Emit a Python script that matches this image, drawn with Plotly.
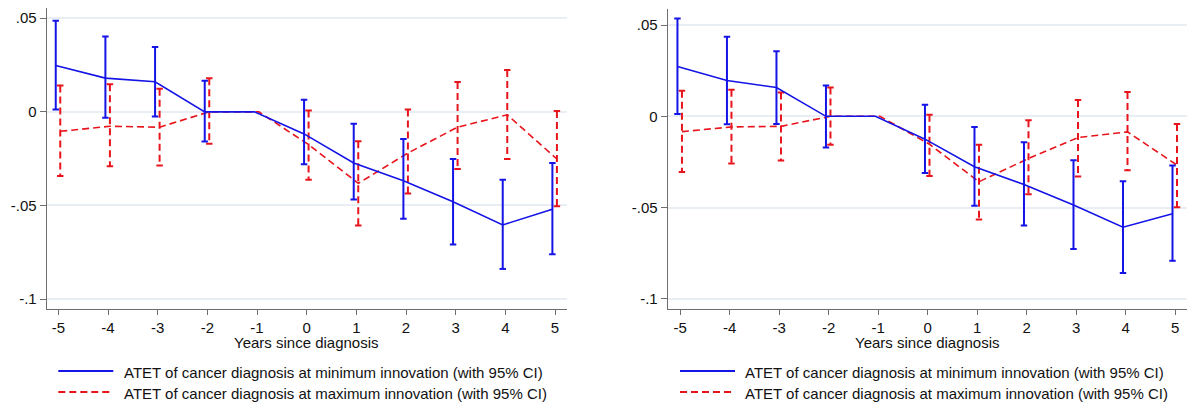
import plotly.graph_objects as go

# ---------------- data ----------------
years = [-5, -4, -3, -2, -1, 0, 1, 2, 3, 4, 5]
ytick_vals = [0.05, 0.0, -0.05, -0.1]
ytick_text = [".05", "0", "-.05", "-.1"]
xtick_vals = years
xtick_text = [str(v) for v in years]

legend_min = "ATET of cancer diagnosis at minimum innovation (with 95% CI)"
legend_max = "ATET of cancer diagnosis at maximum innovation (with 95% CI)"
x_title = "Years since diagnosis"

# left panel
L_min_est = [0.0248, 0.0180, 0.0161, 0.0, 0.0, -0.0118, -0.0273, -0.0368, -0.0480, -0.0604, -0.0520]
L_min_lo = [0.0013, -0.0032, -0.0025, -0.0159, None, -0.0280, -0.0468, -0.0571, -0.0709, -0.0839, -0.0761]
L_min_hi = [0.0486, 0.0402, 0.0346, 0.0166, None, 0.0064, -0.0064, -0.0145, -0.0252, -0.0363, -0.0273]
L_max_est = [-0.0104, -0.0077, -0.0082, 0.0, 0.0, -0.0175, -0.0382, -0.0220, -0.0082, -0.0016, -0.0252]
L_max_lo = [-0.0343, -0.0291, -0.0286, -0.0170, None, -0.0363, -0.0607, -0.0436, -0.0305, -0.0252, -0.0504]
L_max_hi = [0.0141, 0.0148, 0.0123, 0.0179, None, 0.0007, -0.0157, 0.0013, 0.0159, 0.0223, 0.0005]

# right panel
R_min_est = [0.0273, 0.0196, 0.0158, 0.0, 0.0, -0.0125, -0.0276, -0.0373, -0.0485, -0.0607, -0.0533]
R_min_lo = [0.0013, -0.0044, -0.0042, -0.0171, None, -0.0311, -0.0489, -0.0598, -0.0727, -0.0858, -0.0791]
R_min_hi = [0.0536, 0.0436, 0.0356, 0.0169, None, 0.0064, -0.0058, -0.0142, -0.0240, -0.0355, -0.0269]
R_max_est = [-0.0084, -0.0058, -0.0055, 0.0, 0.0, -0.0153, -0.0358, -0.0231, -0.0116, -0.0085, -0.0267]
R_max_lo = [-0.0305, -0.0258, -0.0242, -0.0156, None, -0.0327, -0.0565, -0.0427, -0.0329, -0.0295, -0.0498]
R_max_hi = [0.0140, 0.0145, 0.0131, 0.0158, None, 0.0009, -0.0156, -0.0022, 0.0089, 0.0133, -0.0042]

# ---------------- style ----------------
W, H = 1189, 408
BLUE = "#1414e6"
RED = "#e8141c"
AXIS_C = "#6e6e6e"
GRID_C = "#e9eef5"
FONT = "Liberation Sans, Arial, sans-serif"
OFF_MIN = -0.053
OFF_MAX = 0.038
CAP = 0.065
DASH = "7px,4px"


def px_x(p):
    return p / W


def px_y(p):
    return 1 - p / H


def ci_segments(xs, lo, hi):
    vx, vy, cx, cy = [], [], [], []
    for x, a, b in zip(xs, lo, hi):
        if a is None or b is None:
            continue
        vx += [x, x, None]
        vy += [b, a, None]
        cx += [x - CAP, x + CAP, None, x - CAP, x + CAP, None]
        cy += [b, b, None, a, a, None]
    return vx, vy, cx, cy


fig = go.Figure()

panels = [
    ("x", "y", L_min_est, L_min_lo, L_min_hi, L_max_est, L_max_lo, L_max_hi),
    ("x2", "y2", R_min_est, R_min_lo, R_min_hi, R_max_est, R_max_lo, R_max_hi),
]

for xa, ya, mn, mnlo, mnhi, mx, mxlo, mxhi in panels:
    xmin = [v + OFF_MIN for v in years]
    xmax = [v + OFF_MAX for v in years]
    # max innovation (red dashed)
    vx, vy, cx, cy = ci_segments(xmax, mxlo, mxhi)
    fig.add_trace(go.Scatter(x=vx, y=vy, mode="lines", xaxis=xa, yaxis=ya,
                             line=dict(color=RED, width=2, dash=DASH), showlegend=False, hoverinfo="skip"))
    fig.add_trace(go.Scatter(x=cx, y=cy, mode="lines", xaxis=xa, yaxis=ya,
                             line=dict(color=RED, width=2), showlegend=False, hoverinfo="skip"))
    fig.add_trace(go.Scatter(x=xmax, y=mx, mode="lines", xaxis=xa, yaxis=ya,
                             line=dict(color=RED, width=1.6, dash=DASH), showlegend=False,
                             name=legend_max))
    # min innovation (blue solid)
    vx, vy, cx, cy = ci_segments(xmin, mnlo, mnhi)
    fig.add_trace(go.Scatter(x=vx, y=vy, mode="lines", xaxis=xa, yaxis=ya,
                             line=dict(color=BLUE, width=2), showlegend=False, hoverinfo="skip"))
    fig.add_trace(go.Scatter(x=cx, y=cy, mode="lines", xaxis=xa, yaxis=ya,
                             line=dict(color=BLUE, width=2), showlegend=False, hoverinfo="skip"))
    fig.add_trace(go.Scatter(x=xmin, y=mn, mode="lines", xaxis=xa, yaxis=ya,
                             line=dict(color=BLUE, width=1.6), showlegend=False,
                             name=legend_min))

axis_common_x = dict(
    tickmode="array", tickvals=xtick_vals, ticktext=xtick_text,
    showgrid=False, zeroline=False, showline=True, linecolor=AXIS_C, linewidth=1,
    ticks="outside", ticklen=5, tickcolor=AXIS_C, tickwidth=1,
    tickfont=dict(family=FONT, size=15, color="#111"), range=[-5.235, 5.235],
)
axis_common_y = dict(
    tickmode="array", tickvals=ytick_vals, ticktext=ytick_text,
    showgrid=True, gridcolor=GRID_C, gridwidth=1.5, zeroline=False,
    showline=True, linecolor=AXIS_C, linewidth=1,
    ticks="outside", ticklen=6, tickcolor=AXIS_C, tickwidth=1,
    tickfont=dict(family=FONT, size=15, color="#111"),
)

fig.update_layout(
    width=W, height=H, margin=dict(l=0, r=0, t=0, b=0),
    paper_bgcolor="white", plot_bgcolor="white", showlegend=False,
    xaxis=dict(domain=[px_x(46.7), px_x(566.7)], anchor="y", **axis_common_x),
    yaxis=dict(domain=[px_y(309), px_y(8.3)], anchor="x", range=[-0.1053, 0.0553], **axis_common_y),
    xaxis2=dict(domain=[px_x(667.7), px_x(1187)], anchor="y2", **{**axis_common_x, "range": [-5.25, 5.24]}),
    yaxis2=dict(domain=[px_y(309), px_y(9.3)], anchor="x2", range=[-0.1055, 0.0586], **axis_common_y),
)

annotations = []
shapes = []
for xref, sample_x0, text_x in [("x", 58.3, 122.3), ("x2", 680.0, 743.0)]:
    annotations.append(dict(text=x_title, xref=xref, x=0, yref="paper", y=px_y(342),
                            xanchor="center", yanchor="middle", showarrow=False,
                            font=dict(family=FONT, size=15, color="#111")))
    for row_y, lbl, col, dash in [(371.0, legend_min, BLUE, "solid"), (392.0, legend_max, RED, DASH)]:
        shapes.append(dict(type="line", xref="paper", yref="paper",
                           x0=px_x(sample_x0), x1=px_x(sample_x0 + 55), y0=px_y(row_y), y1=px_y(row_y),
                           line=dict(color=col, width=2, dash=dash)))
        annotations.append(dict(text=lbl, xref="paper", x=px_x(text_x), yref="paper", y=px_y(row_y + 1),
                                xanchor="left", yanchor="middle", showarrow=False,
                                font=dict(family=FONT, size=15, color="#111")))

fig.update_layout(annotations=annotations, shapes=shapes)
fig.write_html(
    "out.html",
    config={"displayModeBar": False},
    post_script="document.documentElement.style.margin='0';document.body.style.margin='0';"
                "document.body.style.overflow='hidden';",
)
